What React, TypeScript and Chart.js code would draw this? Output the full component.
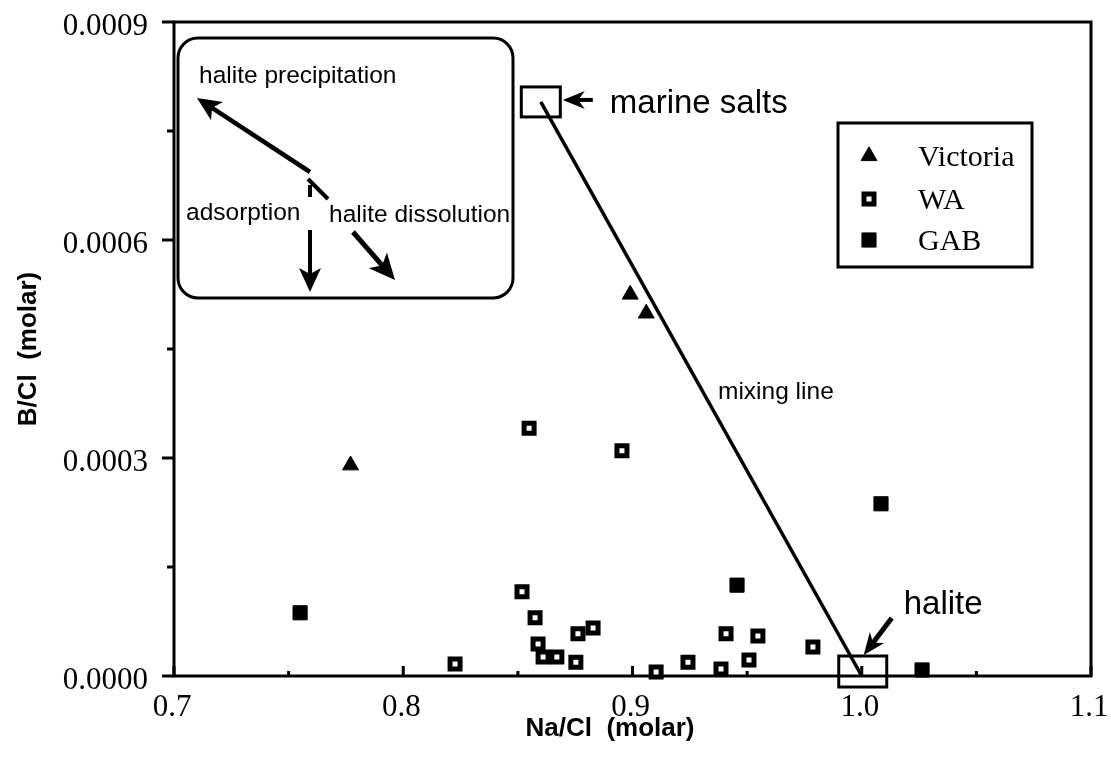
import React, { useEffect, useRef } from 'react';
import { Chart, registerables } from 'chart.js';
import { drawPoint } from 'chart.js/helpers';

Chart.register(...registerables);

// Na/Cl vs B/Cl (molar) for groundwater samples
const victoriaNaCl = [0.777, 0.899, 0.906];
const victoriaBCl = [0.00029, 0.000525, 0.000499];

const waNaCl = [
  0.8226, 0.8518, 0.8549, 0.8575, 0.8588, 0.861, 0.867, 0.8753, 0.8762,
  0.8828, 0.8954, 0.9103, 0.9242, 0.9386, 0.9408, 0.9508, 0.9547, 0.9787,
];
const waBCl = [
  0.0000165, 0.000116, 0.000341, 0.00008, 0.000044, 0.000026, 0.000026,
  0.000019, 0.000058, 0.000066, 0.00031, 0.0000055, 0.000019, 0.0000096,
  0.000058, 0.000022, 0.000055, 0.00004,
];

const gabNaCl = [0.755, 0.9456, 1.0084, 1.0263];
const gabBCl = [0.000087, 0.000125, 0.000237, 0.0000083];

// End members of the mixing line
const marineSalts = { x: 0.86, y: 0.00079 };
const halite = { x: 1.0, y: 0.0 };
const mixingLabelAt = { x: 0.9373, y: 0.00039 };

const xTickValues = [0.7, 0.8, 0.9, 1.0, 1.1];
const xMinorValues = [0.75, 0.85, 0.95, 1.05];
const yTickValues = [0, 0.0003, 0.0006, 0.0009];
const yMinorValues = [0.00015, 0.00045, 0.00075];

const SANS = '"Liberation Sans", Arial, Helvetica, sans-serif';
const SERIF = '"Liberation Serif", "Times New Roman", Times, serif';

const toPoints = (xs: number[], ys: number[]) => xs.map((x, i) => ({ x, y: ys[i] }));

const victoriaStyle = { pointStyle: 'triangle', radius: 9.2, borderWidth: 1, rotation: 0 };
const waStyle = { pointStyle: 'rect', radius: 7.07, borderWidth: 5, rotation: 0 };
const gabStyle = { pointStyle: 'rect', radius: 10, borderWidth: 1, rotation: 0 };

function arrow(
  ctx: CanvasRenderingContext2D,
  x1: number, y1: number, x2: number, y2: number,
  headLen: number, headHalf: number, lw: number, notch = 0.25,
) {
  const a = Math.atan2(y2 - y1, x2 - x1);
  const cos = Math.cos(a), sin = Math.sin(a);
  const bx = x2 - cos * headLen, by = y2 - sin * headLen;
  const nx = x2 - cos * headLen * (1 - notch), ny = y2 - sin * headLen * (1 - notch);
  ctx.save();
  ctx.lineWidth = lw;
  ctx.lineCap = 'butt';
  ctx.beginPath();
  ctx.moveTo(x1, y1);
  ctx.lineTo(nx, ny);
  ctx.stroke();
  ctx.beginPath();
  ctx.moveTo(x2, y2);
  ctx.lineTo(bx - sin * headHalf, by + cos * headHalf);
  ctx.lineTo(nx, ny);
  ctx.lineTo(bx + sin * headHalf, by - cos * headHalf);
  ctx.closePath();
  ctx.fill();
  ctx.restore();
}

function segment(ctx: CanvasRenderingContext2D, x1: number, y1: number, x2: number, y2: number, lw: number) {
  ctx.save();
  ctx.lineWidth = lw;
  ctx.beginPath();
  ctx.moveTo(x1, y1);
  ctx.lineTo(x2, y2);
  ctx.stroke();
  ctx.restore();
}

const noScalePadding = (s: any) => {
  s.paddingTop = 0;
  s.paddingBottom = 0;
  s.paddingLeft = 0;
  s.paddingRight = 0;
};

const framePlugin = {
  id: 'frameAndTicks',
  beforeDatasetsDraw(chart: any) {
    const { ctx, chartArea: a, scales } = chart;
    const xs = scales.x, ys = scales.y;
    ctx.save();
    ctx.strokeStyle = '#000';
    ctx.lineWidth = 3;
    ctx.strokeRect(a.left, a.top, a.right - a.left, a.bottom - a.top);
    // y ticks point outward
    yTickValues.forEach((v) => {
      const y = ys.getPixelForValue(v);
      segment(ctx, a.left - 12, y, a.left, y, 3);
    });
    yMinorValues.forEach((v) => {
      const y = ys.getPixelForValue(v);
      segment(ctx, a.left - 7, y, a.left, y, 3);
    });
    // x ticks point inward
    xTickValues.forEach((v) => {
      const x = xs.getPixelForValue(v);
      segment(ctx, x, a.bottom, x, a.bottom - 10, 3);
    });
    xMinorValues.forEach((v) => {
      const x = xs.getPixelForValue(v);
      segment(ctx, x, a.bottom, x, a.bottom - 5, 3);
    });
    ctx.restore();
  },
  afterDatasetsDraw(chart: any) {
    const { ctx, chartArea: a, scales } = chart;
    const xs = scales.x, ys = scales.y;
    ctx.save();
    ctx.strokeStyle = '#000';
    ctx.fillStyle = '#000';
    ctx.textBaseline = 'middle';
    ctx.textAlign = 'left';

    // marine salts end member
    const mx = xs.getPixelForValue(marineSalts.x);
    const my = ys.getPixelForValue(marineSalts.y);
    ctx.lineWidth = 3;
    ctx.strokeRect(mx - 19.5, my - 15, 39, 30);
    arrow(ctx, mx + 52, my - 2, mx + 22, my - 2, 22, 9, 4, 0.3);
    ctx.font = `33px ${SANS}`;
    ctx.fillText('marine salts', mx + 69, my + 2);

    // halite end member
    const hx = xs.getPixelForValue(halite.x);
    const hy = ys.getPixelForValue(halite.y);
    ctx.lineWidth = 3;
    ctx.strokeRect(hx - 23, hy - 20, 48, 31);
    arrow(ctx, hx + 30, hy - 58, hx + 2, hy - 21, 22, 9, 5, 0.3);
    ctx.font = `33px ${SANS}`;
    ctx.fillText('halite', hx + 42, hy - 71);

    // mixing line label
    ctx.font = `24.5px ${SANS}`;
    ctx.fillText('mixing line', xs.getPixelForValue(mixingLabelAt.x), ys.getPixelForValue(mixingLabelAt.y));

    // process inset
    const ox = a.left, oy = a.top;
    ctx.lineWidth = 3;
    ctx.beginPath();
    ctx.roundRect(ox + 4, oy + 16, 335, 260, 20);
    ctx.stroke();
    arrow(ctx, ox + 136, oy + 150, ox + 23, oy + 76, 24, 11, 4.5, 0.25);
    segment(ctx, ox + 136, oy + 163, ox + 136, oy + 175, 4);
    arrow(ctx, ox + 136, oy + 208, ox + 136, oy + 270, 24, 11, 4, 0.25);
    segment(ctx, ox + 134, oy + 157, ox + 154, oy + 177, 4);
    arrow(ctx, ox + 179, oy + 210, ox + 221, oy + 258, 26, 12, 5, 0.25);
    ctx.font = `24.5px ${SANS}`;
    ctx.fillText('halite precipitation', ox + 25, oy + 54);
    ctx.fillText('adsorption', ox + 12, oy + 191);
    ctx.fillText('halite dissolution', ox + 155, oy + 193);

    // legend
    const lx = a.right - 253, ly = a.top + 101;
    ctx.lineWidth = 3;
    ctx.strokeRect(lx, ly, 194, 144);
    const entries: [string, any, number][] = [
      ['Victoria', victoriaStyle, 33],
      ['WA', waStyle, 76],
      ['GAB', gabStyle, 117],
    ];
    entries.forEach(([label, style, dy]) => {
      ctx.save();
      ctx.fillStyle = style === waStyle ? '#fff' : '#000';
      ctx.strokeStyle = '#000';
      ctx.lineWidth = style.borderWidth;
      drawPoint(ctx, style, lx + 31, ly + dy);
      ctx.restore();
      ctx.font = `30px ${SERIF}`;
      ctx.fillText(label, lx + 80, ly + dy + 2);
    });

    // axis titles
    ctx.font = `bold 26px ${SANS}`;
    ctx.textAlign = 'center';
    ctx.fillText('Na/Cl  (molar)', 610, 729);
    ctx.save();
    ctx.translate(29, (a.top + a.bottom) / 2);
    ctx.rotate(-Math.PI / 2);
    ctx.fillText('B/Cl  (molar)', 0, 0);
    ctx.restore();

    ctx.restore();
  },
};

export default function App() {
  const canvasRef = useRef<HTMLCanvasElement | null>(null);

  useEffect(() => {
    const canvas = canvasRef.current;
    if (!canvas) return;
    const chart = new Chart(canvas, {
      type: 'scatter',
      data: {
        datasets: [
          {
            label: 'Victoria',
            data: toPoints(victoriaNaCl, victoriaBCl),
            pointStyle: 'triangle',
            pointRadius: victoriaStyle.radius,
            pointBorderWidth: victoriaStyle.borderWidth,
            backgroundColor: '#000',
            borderColor: '#000',
            clip: false,
            order: 0,
          },
          {
            label: 'WA',
            data: toPoints(waNaCl, waBCl),
            pointStyle: 'rect',
            pointRadius: waStyle.radius,
            pointBorderWidth: waStyle.borderWidth,
            backgroundColor: '#fff',
            borderColor: '#000',
            clip: false,
            order: 0,
          },
          {
            label: 'GAB',
            data: toPoints(gabNaCl, gabBCl),
            pointStyle: 'rect',
            pointRadius: gabStyle.radius,
            pointBorderWidth: gabStyle.borderWidth,
            backgroundColor: '#000',
            borderColor: '#000',
            clip: false,
            order: 0,
          },
          {
            type: 'line',
            label: 'mixing line',
            data: [marineSalts, halite],
            borderColor: '#000',
            borderWidth: 3.5,
            pointRadius: 0,
            showLine: true,
            fill: false,
            clip: false,
            order: 10,
          } as any,
        ],
      },
      options: {
        responsive: false,
        animation: false,
        devicePixelRatio: 1,
        layout: { padding: { top: 22, right: 20, left: 0, bottom: 0 } },
        plugins: { legend: { display: false }, tooltip: { enabled: false } },
        scales: {
          x: {
            type: 'linear',
            min: 0.7,
            max: 1.1,
            grid: { display: false, drawTicks: false },
            border: { display: false },
            ticks: {
              stepSize: 0.1,
              padding: 13,
              labelOffset: -2,
              color: '#000',
              font: { family: SERIF, size: 31 },
              callback: (v: any) => Number(v).toFixed(1),
            },
            afterFit: (s: any) => { s.height = 83; noScalePadding(s); },
          },
          y: {
            type: 'linear',
            min: 0,
            max: 0.0009,
            grid: { display: false, drawTicks: false },
            border: { display: false },
            ticks: {
              stepSize: 0.0003,
              padding: 26,
              labelOffset: 5,
              color: '#000',
              font: { family: SERIF, size: 31 },
              callback: (v: any) => Number(v).toFixed(4),
            },
            afterFit: (s: any) => { s.width = 174; noScalePadding(s); },
          },
        },
      },
      plugins: [framePlugin],
    });
    return () => chart.destroy();
  }, []);

  return (
    <div style={{ position: 'absolute', left: 0, top: 0, width: 1111, height: 759, background: '#fff' }}>
      <canvas ref={canvasRef} width={1111} height={759} style={{ display: 'block' }} />
    </div>
  );
}
